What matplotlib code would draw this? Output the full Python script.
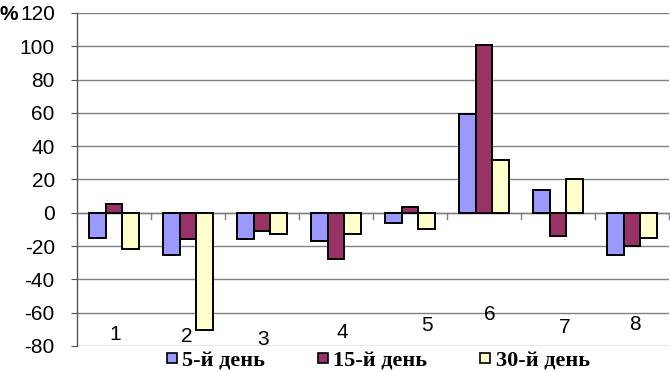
import numpy as np
import matplotlib
matplotlib.use("Agg")
import matplotlib.pyplot as plt
from matplotlib.patches import Rectangle

categories = ["1", "2", "3", "4", "5", "6", "7", "8"]
series_names = ["5-й день", "15-й день", "30-й день"]
day5 = [-15, -25.5, -15.5, -17, -6, 59.5, 13.5, -25.5]
day15 = [5, -16, -11, -28, 3.5, 101, -14, -20]
day30 = [-22, -70.5, -13, -13, -10, 32, 20.5, -15]
y_ticks = [-80, -60, -40, -20, 0, 20, 40, 60, 80, 100, 120]

# layout for the category labels drawn inside the plot
label_dx = [0.01, -0.02, 0.01, 0.08, 0.23, 0.08, 0.09, 0.04]
label_y = [-72.8, -74.4, -75.8, -71.8, -67.4, -60.8, -68.8, -66.8]

colors = ["#9999FF", "#993366", "#FFFFCC"]

W, H = 670, 372
fig = plt.figure(figsize=(W / 100, H / 100), dpi=100)
ax = fig.add_axes([77 / W, 1 - 346 / H, 592 / W, 333 / H])

x = np.arange(len(categories))
w = 0.225
for i, (vals, c) in enumerate(zip([day5, day15, day30], colors)):
    ax.bar(x + (i - 1) * w, vals, width=w, color=c, edgecolor="black",
           linewidth=1.4, zorder=3)

ax.set_xlim(-0.5, len(categories) - 0.5)
ax.set_ylim(-80, 120)
ax.set_yticks(y_ticks)
ax.set_yticklabels([str(t) for t in y_ticks], fontsize=15, family="Liberation Sans")
ax.tick_params(axis="y", length=4, width=0.8, color="#555555", pad=12)
ax.yaxis.grid(True, color="#808080", linewidth=1.0, zorder=0)
ax.set_axisbelow(True)

for s in ["top", "right", "bottom"]:
    ax.spines[s].set_visible(False)
ax.spines["left"].set_color("#555555")
ax.spines["left"].set_linewidth(1.0)

# x axis: line at zero with ticks between categories
ax.set_xticks([])
ax.axhline(0, color="#808080", linewidth=1.0, zorder=2)
for b in np.arange(0.5, len(categories), 1.0):
    ax.plot([b, b], [0, -4], color="#808080", linewidth=1.0, zorder=2,
            clip_on=False)

for xi, lab, dx, ly in zip(x, categories, label_dx, label_y):
    ax.text(xi + dx, ly, lab, ha="center", va="center", fontsize=15,
            family="Liberation Sans", zorder=4)

fig.text(0.0, 1 - 14 / H, "%", fontsize=15, fontweight="bold",
         family="Liberation Sans", ha="left", va="center")

# legend below the plot
leg_marker_x = [166.7, 318.3, 480]
leg_text_x = [181.7, 333.3, 496]
for c, name, mx, tx in zip(colors, series_names, leg_marker_x, leg_text_x):
    fig.add_artist(Rectangle((mx / W, 1 - 363.3 / H), 10 / W, 10 / H,
                             transform=fig.transFigure, facecolor=c,
                             edgecolor="black", linewidth=1.2))
    fig.text(tx / W, 1 - 366.5 / H, name, fontsize=16, fontweight="bold",
             family="Liberation Serif", ha="left", va="baseline")

fig.savefig("out.png", dpi=100)
